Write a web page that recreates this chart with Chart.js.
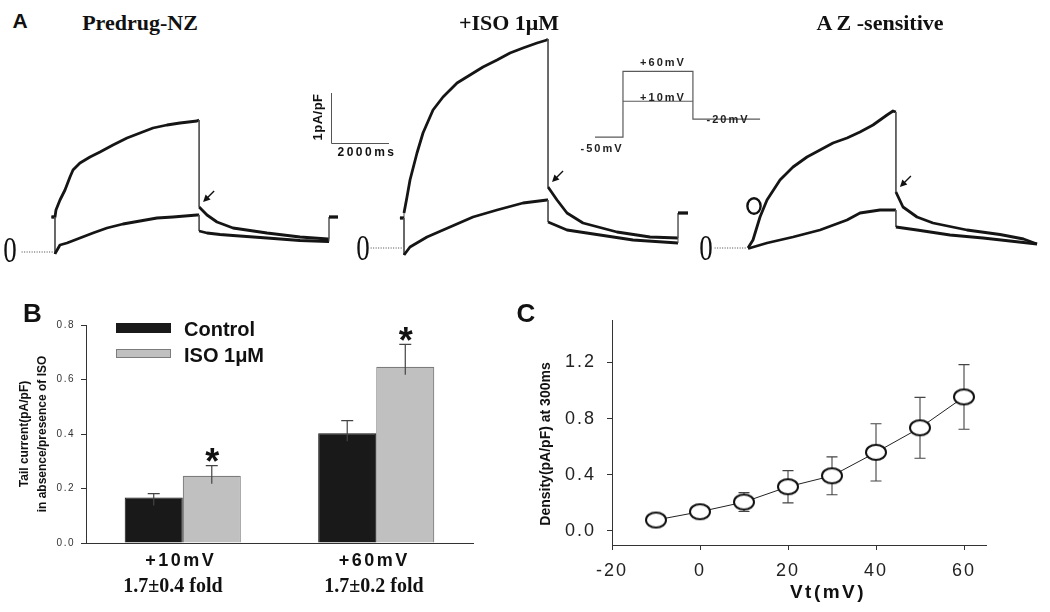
<!DOCTYPE html>
<html><head><meta charset="utf-8">
<script src="https://cdn.jsdelivr.net/npm/chart.js@4.4.1/dist/chart.umd.min.js"></script>
<style>
html,body{margin:0;padding:0;background:#fff;}
#root{position:relative;width:1050px;height:612px;overflow:hidden;background:#fff;}
canvas{position:absolute;}
.t{position:absolute;white-space:nowrap;line-height:1;color:#111;}
</style></head><body><div id="root"></div>
<script>
// ---------- DATA ----------
// Panel A traces: [time (ms), current density (pA/pF)]
const predrugTop = [[-120,0.7],[0,0.7],[34,0.84],[172,1.04],[345,1.24],[517,1.5],[621,1.64],[862,1.78],[1207,1.9],[1552,2.0],[2000,2.14],[2483,2.28],[2931,2.38],[3379,2.48],[3862,2.54],[4310,2.58],[4896,2.62],[4970,2.64],[4970,0.9],[5241,0.74],[5586,0.6],[6138,0.48],[7310,0.38],[8448,0.3],[9414,0.26],[9448,0.26],[9448,0.7],[9758,0.7]];
const predrugBottom = [[-120,0.7],[0,0.7],[0,-0.04],[34,0],[172,0.14],[414,0.18],[862,0.28],[1310,0.38],[1793,0.48],[2345,0.56],[2931,0.62],[3517,0.68],[4069,0.7],[4896,0.74],[4970,0.74],[4970,0.42],[5241,0.38],[5690,0.35],[6138,0.33],[7310,0.28],[8448,0.23],[9414,0.21],[9448,0.21],[9448,0.7],[9758,0.7]];
const isoTop = [[-140,0.6],[0,0.6],[0,0.7],[103,1.02],[207,1.36],[448,1.9],[655,2.3],[1000,2.76],[1345,3.02],[1828,3.3],[2276,3.46],[2724,3.62],[3207,3.76],[3655,3.9],[4103,4.0],[4586,4.1],[4931,4.16],[4966,4.18],[4966,1.22],[5276,0.96],[5620,0.7],[6172,0.5],[7344,0.32],[8482,0.22],[9448,0.2],[9448,0.7],[9793,0.7]];
const isoBottom = [[-140,0.6],[0,0.6],[0,-0.14],[207,0.02],[793,0.22],[1586,0.42],[2379,0.62],[3207,0.76],[4103,0.9],[4931,0.96],[4966,0.96],[4966,0.52],[5620,0.36],[6758,0.26],[7896,0.16],[9448,0.1],[9448,0.7],[9793,0.7]];
const azTop = [[0,0],[172,0.16],[414,0.62],[655,0.96],[1103,1.36],[1552,1.62],[2034,1.82],[2483,1.96],[2931,2.1],[3414,2.2],[3862,2.32],[4310,2.46],[4793,2.66],[5000,2.74],[5100,2.72],[5100,1.12],[5344,0.82],[5827,0.62],[6379,0.5],[7551,0.36],[8689,0.27],[9500,0.18],[9965,0.08]];
const azBottom = [[0,0],[69,0],[655,0.1],[1552,0.22],[2483,0.36],[3414,0.56],[3862,0.7],[4551,0.76],[5100,0.76],[5100,0.42],[5827,0.36],[6965,0.26],[8103,0.2],[9965,0.08]];
const baselineDots = [[-1150,0],[-60,0]];
// voltage protocol: [time (ms), mV]
const protocolMain = [[-2000,-50],[0,-50],[0,60],[5000,60],[5000,-20],[9800,-20]];
const protocolStep10 = [[0,10],[5000,10]];
const panelTitles = ['Predrug-NZ','+ISO 1\u03bcM','A Z -sensitive'];

// Panel B
const categoriesB = ['+10mV','+60mV'];
const controlB = [0.167, 0.403];
const controlErrB = [0.014, 0.046];
const isoB = [0.247, 0.647];
const isoErrB = [0.037, 0.082];
const isoSignificant = [true, true];
const foldB = ['1.7\u00b10.4 fold','1.7\u00b10.2 fold'];
const yTicksB = [0,0.2,0.4,0.6,0.8];

// Panel C
const vtC = [-10,0,10,20,30,40,50,60];
const densityC = [0.078,0.137,0.206,0.315,0.393,0.56,0.735,0.955];
const densityErrC = [0.04,0.04,0.067,0.115,0.135,0.204,0.217,0.23];
const xTicksC = [-20,0,20,40,60];
const yTicksC = [0,0.4,0.8,1.2];

// ---------- HELPERS ----------
const SANS = '"Liberation Sans", Arial, sans-serif';
const SERIF = '"Liberation Serif", "Times New Roman", serif';
const root = document.getElementById('root');
function mk(l,t,w,h){const c=document.createElement('canvas');c.width=w;c.height=h;c.style.left=l+'px';c.style.top=t+'px';c.style.width=w+'px';c.style.height=h+'px';root.appendChild(c);return c;}
function txt(s,x,y,css,anchor){const d=document.createElement('div');d.className='t';d.textContent=s;d.style.left=x+'px';d.style.top=y+'px';d.style.cssText+=css;d.style.transform=anchor||'translate(-50%,-50%)';root.appendChild(d);return d;}
const pts = arr => arr.map(([x,y])=>({x,y}));

const spacingPlugin = {id:'spacing', afterLayout(chart,args,opts){
  Object.keys(chart.scales).forEach(id=>{
    const s=chart.scales[id]; const sp=opts[id];
    if(!sp||s._spaced) return;
    const orig=s.drawLabels;
    s.drawLabels=function(area){const c=this.ctx;c.save();c.letterSpacing=sp;orig.call(this,area);c.restore();};
    s._spaced=true;
  });
}};

const baseOpts = (xmin,xmax,ymin,ymax)=>({responsive:false,animation:false,devicePixelRatio:1,events:[],
  layout:{padding:0},plugins:{legend:{display:false},tooltip:{enabled:false}},
  scales:{x:{type:'linear',display:false,min:xmin,max:xmax},y:{type:'linear',display:false,min:ymin,max:ymax}}});

const isVert = c => Math.abs(c.p0.x-c.p1.x)<0.01;
function sweepDs(arr){return {data:pts(arr),showLine:true,pointRadius:0,borderColor:'#151515',borderWidth:2.8,borderJoinStyle:'round',
  segment:{borderWidth:c=>isVert(c)?1:2.8,borderColor:c=>isVert(c)?'#555':'#151515'}};}

function arrowPlugin(dsIndex){return {id:'arrow'+dsIndex, afterDatasetsDraw(chart){
  const ds=chart.data.datasets[dsIndex].data; let idx=-1;
  for(let i=1;i<ds.length;i++){ if(ds[i].x===ds[i-1].x && ds[i-1].y-ds[i].y>0.3 && ds[i].y<ds[i-1].y){idx=i;break;} }
  if(idx<0) return;
  const p=chart.getDatasetMeta(dsIndex).data[idx]; const ctx=chart.ctx;
  const tx=p.x+4, ty=p.y-5, sx=tx+11, sy=ty-11;
  ctx.save();ctx.strokeStyle='#111';ctx.fillStyle='#111';ctx.lineWidth=1.4;
  ctx.beginPath();ctx.moveTo(sx,sy);ctx.lineTo(tx+3,ty-3);ctx.stroke();
  const ux=(tx-sx)/Math.hypot(tx-sx,ty-sy), uy=(ty-sy)/Math.hypot(tx-sx,ty-sy);
  ctx.beginPath();ctx.moveTo(tx,ty);ctx.lineTo(tx-ux*7-uy*3.5,ty-uy*7+ux*3.5);ctx.lineTo(tx-ux*7+uy*3.5,ty-uy*7-ux*3.5);ctx.closePath();ctx.fill();
  ctx.restore();
}};}

function traceChart(l,t,w,h,top,bottom,xr,yr,extra){
  const c=mk(l,t,w,h);
  return new Chart(c,{type:'scatter',data:{datasets:[
    {data:pts(baselineDots),showLine:true,pointRadius:0,borderColor:'#444',borderWidth:1,borderDash:[1,1.5]},
    sweepDs(bottom),sweepDs(top)]},
    options:baseOpts(xr[0],xr[1],yr[0],yr[1]),plugins:[arrowPlugin(2)].concat(extra||[])});
}

// ---------- PANEL A ----------
traceChart(0,90,350,180,predrugTop,predrugBottom,[-1896,10172],[-0.36,3.24]);
const scaleBar={id:'scalebar',afterDatasetsDraw(chart){
  const xs=chart.scales.x, ys=chart.scales.y, ctx=chart.ctx;
  const cx=31, cy=123;
  const hLen=xs.getPixelForValue(2000)-xs.getPixelForValue(0);
  const vLen=ys.getPixelForValue(0)-ys.getPixelForValue(1);
  ctx.save();ctx.strokeStyle='#555';ctx.lineWidth=1;ctx.beginPath();
  ctx.moveTo(cx+0.5,cy-vLen);ctx.lineTo(cx+0.5,cy+0.5);ctx.lineTo(cx+hLen,cy+0.5);ctx.stroke();ctx.restore();
}};
traceChart(300,20,400,250,isoTop,isoBottom,[-3586,10206],[-0.44,4.56],[scaleBar]);
const circleMark={id:'circ',afterDatasetsDraw(chart){const ctx=chart.ctx;ctx.save();ctx.strokeStyle='#111';ctx.lineWidth=2.4;
  ctx.beginPath();ctx.ellipse(54,116,6.6,7.8,0,0,Math.PI*2);ctx.stroke();ctx.restore();}};
traceChart(700,90,350,180,azTop,azBottom,[-1655,10413],[-0.44,3.16],[circleMark]);

// protocol
(function(){const c=mk(580,50,200,110);
  const lineDs=a=>({data:pts(a),showLine:true,pointRadius:0,borderColor:'#5a5a5a',borderWidth:1.2});
  new Chart(c,{type:'scatter',data:{datasets:[lineDs(protocolMain),lineDs(protocolStep10)]},options:baseOpts(-3072,11225,-88.2,95.7)});
})();

// panel A texts
txt('A',20,21,'font:bold 21px '+SANS+';');
[[140,23],[509,22.5],[880,22.5]].forEach((p,i)=>txt(panelTitles[i],p[0],p[1],'font:bold 22px '+SERIF+';'));
[[10,251],[363,249],[706,249]].forEach(p=>txt('0',p[0],p[1],'font:27px '+SERIF+';','translate(-50%,-50%) scale(1,1.3)'));
txt('1pA/pF',317,117,'font:bold 13px '+SANS+';letter-spacing:0.5px;','translate(-50%,-50%) rotate(-90deg)');
txt('2000ms',367,152,'font:bold 12px '+SANS+';letter-spacing:2.5px;');
const pl='font:bold 11px '+SANS+';letter-spacing:2px;color:#222;';
txt('+60mV',663,62,pl);txt('+10mV',663,97,pl);txt('-50mV',602,147.5,pl);txt('-20mV',728,118.5,pl);

// ---------- PANEL B ----------
(function(){
  const c=mk(0,290,500,322);
  const errPlugin={id:'errB',afterDatasetsDraw(chart){
    const ctx=chart.ctx, ys=chart.scales.y; const errs=[controlErrB,isoErrB];
    chart.data.datasets.forEach((ds,i)=>{chart.getDatasetMeta(i).data.forEach((bar,j)=>{
      const v=ds.data[j], yT=ys.getPixelForValue(v+errs[i][j]), y0=ys.getPixelForValue(v);
      ctx.save();ctx.strokeStyle='#444';ctx.lineWidth=1.2;ctx.beginPath();
      ctx.moveTo(bar.x,y0+8);ctx.lineTo(bar.x,yT);ctx.moveTo(bar.x-6,yT);ctx.lineTo(bar.x+6,yT);ctx.stroke();
      if(i===1&&isoSignificant[j]){ctx.fillStyle='#111';ctx.font='bold 36px '+SANS;ctx.textAlign='center';ctx.textBaseline='alphabetic';
        const m=ctx.measureText('*');const off=(m.actualBoundingBoxAscent-m.actualBoundingBoxDescent)/2;
        ctx.fillText('*',bar.x+0.5,yT-10.5+off);}
      ctx.restore();
    });});
  }};
  new Chart(c,{type:'bar',data:{labels:categoriesB,datasets:[
    {label:'Control',data:controlB,backgroundColor:'#191919',borderColor:'#111',borderWidth:1},
    {label:'ISO 1\u03bcM',data:isoB,backgroundColor:'#c0c0c0',borderColor:'#7c7c7c',borderWidth:1.2}]},
    options:{responsive:false,animation:false,devicePixelRatio:1,events:[],
      layout:{padding:{top:35,right:27,left:0,bottom:0}},
      datasets:{bar:{categoryPercentage:0.6,barPercentage:1.0}},
      plugins:{legend:{display:false},tooltip:{enabled:false},spacing:{x:'2.5px',y:'1.5px'}},
      scales:{
        x:{type:'category',offset:true,grid:{display:false,drawTicks:false},border:{display:true,color:'#333',width:1},
           ticks:{color:'#111',font:{family:SANS,size:18,weight:'bold'},padding:7,maxRotation:0,labelOffset:-2},
           afterFit:s=>{s.height=69;}},
        y:{type:'linear',min:0,max:0.8,grid:{display:true,drawOnChartArea:false,drawTicks:true,tickLength:5,color:'#333'},
           border:{display:true,color:'#333',width:1},
           afterBuildTicks:s=>{s.ticks=yTicksB.map(v=>({value:v}));},
           ticks:{color:'#333',font:{family:SANS,size:10},padding:6,callback:v=>Number(v).toFixed(1)},
           title:{display:true,text:['Tail current(pA/pF)','in absence/presence of ISO'],color:'#111',
             font:{family:SANS,size:12,weight:'bold',lineHeight:1.45},padding:{top:16.3,bottom:0}},
           afterFit:s=>{s.width=86;}}
      }},plugins:[spacingPlugin,errPlugin]});
})();
txt('B',32.5,312.5,'font:bold 26px '+SANS+';');
// legend
(function(){
  const b1=document.createElement('div');b1.style.cssText='position:absolute;left:116px;top:323px;width:55px;height:10px;background:#191919;';root.appendChild(b1);
  const b2=document.createElement('div');b2.style.cssText='position:absolute;left:116px;top:349px;width:53px;height:7px;background:#c0c0c0;border:1px solid #7c7c7c;';root.appendChild(b2);
  txt('Control',184,329,'font:bold 20px '+SANS+';','translate(0,-50%)');
  txt('ISO 1\u03bcM',184,355,'font:bold 20px '+SANS+';','translate(0,-50%)');
})();
txt(foldB[0],173,585,'font:bold 20px '+SERIF+';');
txt(foldB[1],374,585,'font:bold 20px '+SERIF+';');

// ---------- PANEL C ----------
(function(){
  const c=mk(500,290,550,322);
  const pc=document.createElement('canvas');pc.width=26;pc.height=21;
  const g=pc.getContext('2d');g.fillStyle='#fff';g.strokeStyle='#111';g.lineWidth=2;
  g.beginPath();g.ellipse(13,10.5,10,7.6,0,0,Math.PI*2);g.fill();g.stroke();
  const errPlugin={id:'errC',beforeDatasetsDraw(chart){
    const ctx=chart.ctx, ys=chart.scales.y; const meta=chart.getDatasetMeta(0);
    ctx.save();ctx.strokeStyle='#444';ctx.lineWidth=1.1;
    meta.data.forEach((p,j)=>{const v=densityC[j], e=densityErrC[j];
      const yT=ys.getPixelForValue(v+e), yB=ys.getPixelForValue(v-e);
      ctx.beginPath();ctx.moveTo(p.x,yT);ctx.lineTo(p.x,yB);
      ctx.moveTo(p.x-5.5,yT);ctx.lineTo(p.x+5.5,yT);ctx.moveTo(p.x-5.5,yB);ctx.lineTo(p.x+5.5,yB);ctx.stroke();});
    ctx.restore();
  }};
  new Chart(c,{type:'scatter',data:{datasets:[{data:vtC.map((x,i)=>({x,y:densityC[i]})),showLine:true,
      borderColor:'#222',borderWidth:1,pointStyle:pc,pointRadius:10}]},
    options:{responsive:false,animation:false,devicePixelRatio:1,events:[],
      layout:{padding:{top:30,right:64,left:0,bottom:0}},
      plugins:{legend:{display:false},tooltip:{enabled:false},spacing:{x:'2px',y:'2px'}},
      scales:{
        x:{type:'linear',min:-20,max:65,grid:{display:true,drawOnChartArea:false,drawTicks:true,tickLength:5,color:'#333'},
           border:{display:true,color:'#333',width:1},
           afterBuildTicks:s=>{s.ticks=xTicksC.map(v=>({value:v}));},
           ticks:{color:'#222',font:{family:SANS,size:18},padding:10,maxRotation:0,callback:v=>String(v)},
           afterFit:s=>{s.height=67;}},
        y:{type:'linear',min:-0.1,max:1.503,grid:{display:true,drawOnChartArea:false,drawTicks:true,tickLength:5,color:'#333'},
           border:{display:true,color:'#333',width:1},
           afterBuildTicks:s=>{s.ticks=yTicksC.map(v=>({value:v}));},
           ticks:{color:'#222',font:{family:SANS,size:18},padding:11,callback:v=>Number(v).toFixed(1)},
           afterFit:s=>{s.width=112;}}
      }},plugins:[spacingPlugin,errPlugin]});
})();
txt('C',526,313,'font:bold 26px '+SANS+';');
txt('Vt(mV)',828,592,'font:bold 19px '+SANS+';letter-spacing:2.5px;');
txt('Density(pA/pF) at 300ms',545,444,'font:bold 14px '+SANS+';','translate(-50%,-50%) rotate(-90deg)');
</script></body></html>
